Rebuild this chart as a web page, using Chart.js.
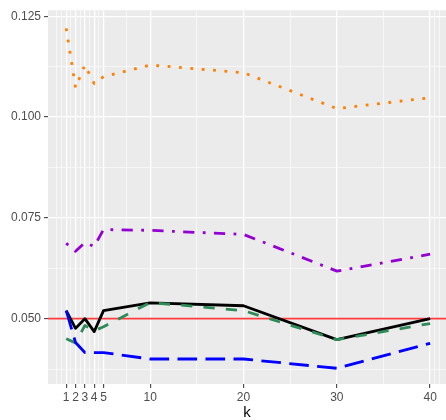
<!DOCTYPE html>
<html lang="en">
<head>
<meta charset="utf-8">
<title>k chart</title>
<style>
  body { margin: 0; background: #fff; }
  #wrap { width: 446px; height: 420px; }
</style>
</head>
<body>
<div id="wrap"><canvas id="chart" width="446" height="420"></canvas></div>
<script src="https://cdn.jsdelivr.net/npm/chart.js@4.4.1/dist/chart.umd.min.js"></script>
<script>
// data
const kValues = [1, 2, 3, 4, 5, 10, 20, 30, 40];
const orangeVals = [0.1220, 0.1073, 0.1129, 0.1083, 0.1100, 0.1129, 0.1110, 0.1021, 0.1048];
const purpleVals = [0.0687, 0.0667, 0.0689, 0.0679, 0.0721, 0.0719, 0.0709, 0.0618, 0.0660];
const blackVals  = [0.0520, 0.0476, 0.0500, 0.0468, 0.0520, 0.0539, 0.0532, 0.0448, 0.0500];
const greenVals  = [0.0450, 0.0440, 0.0483, 0.0470, 0.0480, 0.0540, 0.0520, 0.0448, 0.0488];
const blueVals   = [0.0520, 0.0441, 0.0416, 0.0416, 0.0416, 0.0400, 0.0400, 0.0377, 0.0439];
const refLevel = 0.05;

const xMajor = [1, 2, 3, 4, 5, 10, 20, 30, 40];
const xMinor = [0, 0.5, 1.5, 2.5, 3.5, 4.5, 7.5, 15, 25, 35, 40.5, 41];
const yMajor = [0.050, 0.075, 0.100, 0.125];
const yMinor = [0.0375, 0.0625, 0.0875, 0.1125];

const xMin = -0.95, xMax = 41.7;
const yMin = 0.0338, yMax = 0.1265;

const pts = vals => kValues.map((k, i) => ({ x: k, y: vals[i] }));

// grey panel like ggplot
const panelBg = {
  id: 'panelBg',
  beforeDraw(chart) {
    const a = chart.chartArea, c = chart.ctx;
    c.save();
    c.fillStyle = '#EBEBEB';
    c.fillRect(a.left, a.top, a.right - a.left, a.bottom - a.top);
    c.restore();
  }
};

function gridOpts(majors) {
  const isMajor = ctx => ctx.tick && majors.includes(ctx.tick.value);
  return {
    color: '#FFFFFF',
    lineWidth: ctx => isMajor(ctx) ? 1.3 : 0.6,
    tickColor: ctx => isMajor(ctx) ? '#333333' : 'rgba(0,0,0,0)',
    tickLength: 4,
    tickWidth: 1
  };
}

const tickFont = { family: '"Liberation Sans", Arial, sans-serif', size: 12 };

new Chart(document.getElementById('chart'), {
  type: 'line',
  data: {
    datasets: [
      { data: pts(blueVals), borderColor: '#0000FF', borderWidth: 2.8, borderDash: [19.6, 8.4], order: 1 },
      { data: pts(greenVals), borderColor: '#2E8B57', borderWidth: 2.8, borderDash: [11.2, 11.2], order: 2 },
      { data: pts(blackVals), borderColor: '#000000', borderWidth: 2.8, order: 3 },
      { data: pts(purpleVals), borderColor: '#9400D3', borderWidth: 2.8, borderDash: [2.8, 8.4, 11.2, 8.4], order: 4 },
      { data: pts(orangeVals), borderColor: '#FF7F00', borderWidth: 2.8, borderDash: [2.8, 8.6], order: 5 },
      { data: [{ x: xMin, y: refLevel }, { x: xMax, y: refLevel }], borderColor: '#FF3B3B', borderWidth: 1.7, order: 6 }
    ]
  },
  options: {
    responsive: false,
    animation: false,
    layout: { padding: { top: 7, right: 0, left: 0, bottom: 0 } },
    elements: {
      point: { radius: 0, hoverRadius: 0 },
      line: { tension: 0, borderCapStyle: 'butt', borderJoinStyle: 'round', fill: false }
    },
    plugins: { legend: { display: false }, tooltip: { enabled: false } },
    scales: {
      x: {
        type: 'linear',
        min: xMin,
        max: xMax,
        afterBuildTicks: s => { s.ticks = xMajor.concat(xMinor).map(v => ({ value: v })); },
        afterFit: s => { s.height = 36; },
        grid: gridOpts(xMajor),
        border: { display: false },
        ticks: {
          autoSkip: false,
          maxRotation: 0,
          padding: 2,
          color: '#4D4D4D',
          font: tickFont,
          callback: v => xMajor.includes(v) ? String(v) : ''
        },
        title: {
          display: true,
          text: 'k',
          color: '#000000',
          font: { family: '"Liberation Sans", Arial, sans-serif', size: 15 },
          padding: { top: 0, bottom: -2 }
        }
      },
      y: {
        type: 'linear',
        min: yMin,
        max: yMax,
        afterBuildTicks: s => { s.ticks = yMajor.concat(yMinor).map(v => ({ value: v })); },
        afterFit: s => { s.width = 48; },
        grid: gridOpts(yMajor),
        border: { display: false },
        ticks: {
          autoSkip: false,
          padding: 3,
          color: '#4D4D4D',
          font: tickFont,
          callback: v => yMajor.includes(v) ? v.toFixed(3) : ''
        }
      }
    }
  },
  plugins: [panelBg]
});
</script>
</body>
</html>
